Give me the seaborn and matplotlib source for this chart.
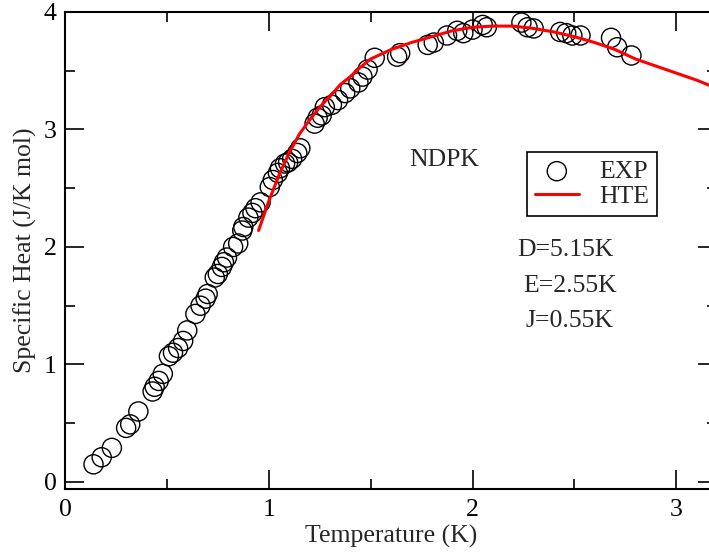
import numpy as np
import pandas as pd
import seaborn as sb
from matplotlib import pyplot as plt
from matplotlib.ticker import MultipleLocator

exp_T = [0.14, 0.18, 0.23, 0.30, 0.32, 0.36, 0.43, 0.44, 0.46, 0.48, 0.51, 0.53,
         0.555, 0.58, 0.60, 0.64, 0.665, 0.69, 0.70, 0.735, 0.75, 0.77, 0.78, 0.795,
         0.825, 0.85, 0.87, 0.875, 0.90, 0.92, 0.935, 0.96, 1.005, 1.02, 1.045, 1.055,
         1.08, 1.095, 1.115, 1.14, 1.155, 1.225, 1.24, 1.26, 1.275, 1.31, 1.34, 1.375,
         1.40, 1.44, 1.46, 1.485, 1.52, 1.63, 1.645, 1.78, 1.81, 1.875, 1.925, 1.955,
         2.00, 2.05, 2.07, 2.24, 2.27, 2.30, 2.43, 2.46, 2.49, 2.53, 2.68, 2.71, 2.78]
exp_C = [0.15, 0.21, 0.29, 0.46, 0.49, 0.60, 0.77, 0.81, 0.86, 0.92, 1.07, 1.10,
         1.14, 1.20, 1.29, 1.43, 1.50, 1.56, 1.60, 1.74, 1.77, 1.83, 1.87, 1.91,
         2.00, 2.03, 2.14, 2.17, 2.25, 2.29, 2.33, 2.38, 2.51, 2.57, 2.63, 2.67,
         2.71, 2.72, 2.75, 2.80, 2.84, 3.05, 3.10, 3.12, 3.19, 3.21, 3.25, 3.31,
         3.35, 3.40, 3.45, 3.51, 3.61, 3.62, 3.65, 3.72, 3.74, 3.80, 3.84, 3.82,
         3.85, 3.89, 3.87, 3.91, 3.87, 3.86, 3.83, 3.82, 3.80, 3.80, 3.78, 3.70, 3.63]

# high temperature expansion fit (red line)
hte_T = [0.95, 1.00, 1.05, 1.10, 1.15, 1.20, 1.25, 1.30, 1.35, 1.40, 1.45, 1.50,
         1.60, 1.70, 1.80, 1.90, 2.00, 2.10, 2.20, 2.30, 2.40, 2.50, 2.60, 2.70,
         2.80, 2.90, 3.00, 3.10, 3.20]
hte_C = [2.14, 2.39, 2.61, 2.80, 2.96, 3.08, 3.19, 3.28, 3.38, 3.45, 3.53, 3.60,
         3.68, 3.74, 3.79, 3.84, 3.87, 3.88, 3.88, 3.86, 3.83, 3.79, 3.74, 3.68,
         3.60, 3.54, 3.48, 3.42, 3.35]

params = ['D=5.15K', 'E=2.55K', 'J=0.55K']

sb.set_style('ticks')
plt.rcParams['font.family'] = ['Liberation Serif', 'DejaVu Serif']

fs = 18.5
fig = plt.figure(figsize=(7.09, 5.52), dpi=100)
ax = fig.add_axes([65/709, 63/552, 652/709, 477/552])

exp_df = pd.DataFrame({'T': exp_T, 'C': exp_C})
hte_df = pd.DataFrame({'T': hte_T, 'C': hte_C})

sb.scatterplot(data=exp_df, x='T', y='C', ax=ax, marker='o', s=190,
               color='none', edgecolor='black', linewidth=1.0, label='EXP',
               zorder=2)
ax.collections[0].set_facecolor('none')
sb.lineplot(data=hte_df, x='T', y='C', ax=ax, color='red', linewidth=2.2,
            label='HTE', zorder=3)

ax.set_xlim(0, 3.2)
ax.set_ylim(-0.06, 4.0)
ax.xaxis.set_major_locator(MultipleLocator(1))
ax.xaxis.set_minor_locator(MultipleLocator(0.5))
ax.yaxis.set_major_locator(MultipleLocator(1))
ax.yaxis.set_minor_locator(MultipleLocator(0.5))
ax.tick_params(which='both', direction='in', top=True, right=True,
               width=1.2, colors='black', labelsize=fs)
ax.tick_params(which='major', length=13.5)
ax.tick_params(which='minor', length=7)
ax.tick_params(axis='x', pad=7)
ax.tick_params(axis='y', pad=6)
for sp in ax.spines.values():
    sp.set_linewidth(1.5)
    sp.set_color('black')

ax.set_xlabel('Temperature (K)', fontsize=fs, labelpad=3)
ax.set_ylabel('Specific Heat (J/K mol)', fontsize=fs, labelpad=5)

ax.text(1.69, 2.74, 'NDPK', fontsize=fs, va='center', ha='left')
ax.text(2.22, 1.97, params[0], fontsize=fs, va='center', ha='left')
ax.text(2.25, 1.67, params[1], fontsize=fs, va='center', ha='left')
ax.text(2.26, 1.37, params[2], fontsize=fs, va='center', ha='left')

leg = ax.legend(loc='upper left', bbox_to_anchor=(0.709, 0.706), fontsize=fs,
                frameon=True, fancybox=False, edgecolor='black',
                handlelength=1.7, handletextpad=0.8, borderpad=0.3,
                labelspacing=0.08, scatterpoints=1, borderaxespad=0)
leg.get_frame().set_linewidth(1.2)
leg.get_frame().set_alpha(1)

plt.savefig('out.png', dpi=100)
